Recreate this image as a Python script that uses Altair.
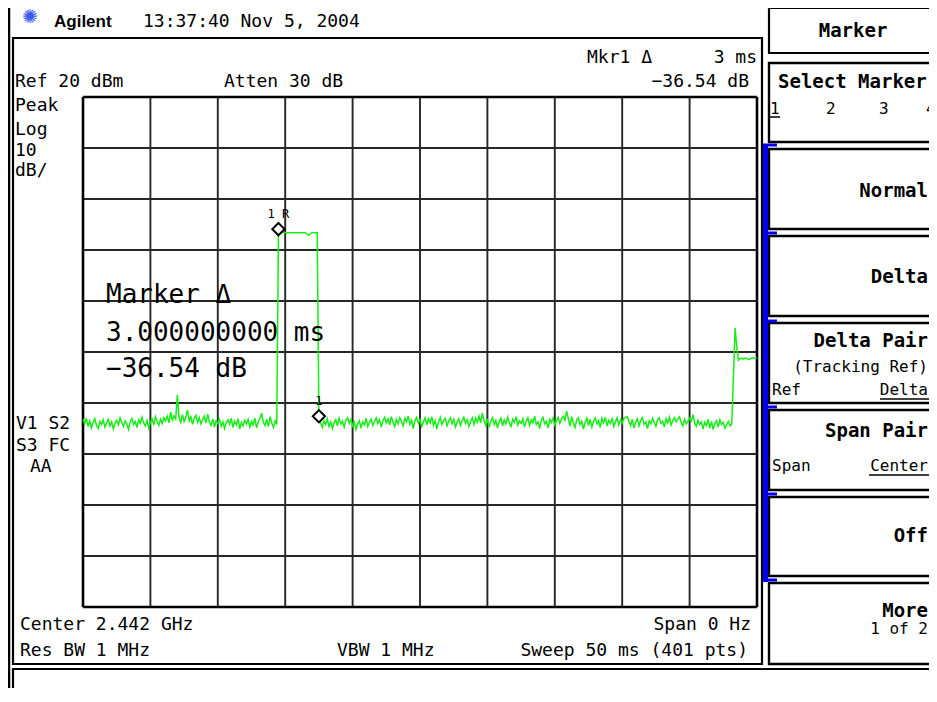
import altair as alt
import pandas as pd

# ---------------- data ----------------
SWEEP_MS = 50.0
REF_DBM = 20.0
DB_PER_DIV = 10.0
N_DIV = 10

noise_before = [
    -43.2, -44.1, -43.0, -44.6, -43.5, -44.9, -43.8, -43.1, -44.4, -45.0, -43.6, -44.2, -43.3, -44.7, -43.9, -43.2, -44.5, -43.7, -45.1, -44.0,
    -43.4, -44.3, -42.9, -43.8, -44.6, -43.5, -44.1, -45.2, -43.7, -43.0, -44.2, -43.6, -44.8, -43.3, -44.0, -42.8, -43.9, -44.5, -43.4, -44.9,
    -43.8, -43.1, -44.3, -42.7, -43.6, -44.4, -43.2, -44.0, -42.9, -43.5, -42.6, -43.9, -41.8, -43.4, -42.5, -43.1, -38.4, -42.9, -43.8, -42.3,
    -43.6, -42.8, -41.4, -43.5, -42.7, -44.2, -43.0, -42.4, -43.8, -42.9, -44.1, -43.3, -42.6, -43.9, -42.2, -43.7, -44.4, -43.1, -44.7, -43.5,
    -44.0, -43.2, -44.6, -43.7, -45.0, -43.9, -43.3, -44.2, -43.0, -44.8, -43.6, -44.3, -43.1, -45.1, -43.8, -44.5, -43.4, -44.1, -43.2, -44.7,
    -43.6, -44.3, -43.0, -44.9, -43.7, -43.1, -42.0, -43.8, -44.4, -43.2, -44.6, -42.7, -43.9, -44.8, -43.5, -44.2,
]
pulse_top = [
    -6.6, -6.6, -6.6, -6.5, -6.6, -6.6, -6.6, -6.6, -6.6, -6.6, -6.6, -6.6, -6.6, -6.6, -6.6, -6.6, -6.6,
    -6.9, -7.1, -6.8, -6.6, -6.6, -6.6, -6.6,
]
noise_after = [
    -42.6, -43.9, -44.8, -43.5, -44.2, -43.1, -44.6, -43.7, -45.0, -43.9, -43.3, -44.5, -43.0, -44.1, -43.6, -44.7, -43.4, -42.9, -44.0, -43.2,
    -44.5, -43.8, -45.2, -44.1, -43.5, -44.9, -43.7, -44.3, -43.0, -44.6, -43.8, -43.2, -44.4, -43.6, -42.9, -44.0, -43.3, -44.7, -43.5, -42.8,
    -43.9, -43.1, -44.3, -42.7, -43.8, -44.6, -43.2, -44.1, -42.9, -43.6, -44.5, -43.0, -43.7, -42.6, -44.2, -43.4, -45.0, -43.5, -42.8, -44.0,
    -43.3, -44.6, -43.8, -42.9, -44.3, -43.1, -43.9, -42.7, -44.4, -43.5, -45.1, -43.7, -42.8, -44.2, -43.4, -43.0, -44.5, -43.6, -42.9, -44.1,
    -43.2, -44.7, -43.8, -43.1, -44.4, -43.5, -42.8, -44.0, -43.3, -44.6, -43.7, -42.9, -44.2, -43.0, -43.8, -42.6, -43.9, -42.0, -43.5, -44.3,
    -43.1, -44.8, -43.6, -42.9, -44.2, -43.4, -44.9, -43.7, -43.0, -44.5, -43.3, -44.1, -42.8, -43.9, -44.6, -43.2, -43.8, -42.7, -44.3, -43.5,
    -44.0, -43.1, -44.7, -43.6, -42.9, -44.4, -43.3, -43.9, -42.6, -44.2, -43.7, -45.0, -43.4, -42.8, -44.1, -43.6, -44.9, -43.2, -43.8, -42.9,
    -44.3, -43.5, -42.8, -44.0, -43.1, -42.6, -43.4, -41.6, -43.0, -44.6, -42.7, -43.9, -44.8, -43.3, -42.9, -44.2, -43.6, -45.1, -43.8, -43.0,
    -44.4, -43.2, -44.7, -43.6, -42.9, -44.1, -43.5, -44.8, -43.0, -43.9, -42.8, -44.5, -43.4, -44.0, -43.1, -44.6, -43.7, -42.9, -44.3, -43.3,
    -43.9, -43.0, -42.8, -42.7, -43.6, -44.4, -43.2, -44.9, -43.8, -43.1, -44.5, -43.4, -42.9, -44.2, -43.7, -45.0, -43.5, -44.1, -43.0, -43.8,
    -44.6, -43.3, -42.9, -44.0, -43.6, -44.7, -43.1, -43.9, -42.8, -44.3, -43.5, -42.9, -43.7, -43.1, -42.7, -43.8, -44.5, -43.2, -44.1, -43.6,
    -43.0, -43.5, -42.3, -43.9, -44.6, -43.4, -44.2, -43.7, -45.1, -43.8, -44.4, -43.2, -44.9, -43.6, -45.2, -44.0, -43.5, -44.7, -43.3, -44.2,
    -43.8, -44.9, -44.3, -43.6, -44.5,
]
tail = [-44.2, -34.8, -25.3, -29.0, -31.6, -31.3, -31.2, -31.4, -31.2, -31.3, -31.5, -31.3, -31.2, -31.2, -31.3, -31.2]

marker_times = [14.5, 17.5]
marker_levels = [-6.6, -42.6]
marker_labels = ["1 R", "1"]

softkey_titles = ["Normal", "Delta", "Delta Pair", "Span Pair", "Off", "More"]

# ---------------- layout helpers ----------------
OFF = 8
MONO = "DejaVu Sans Mono"
SANS = "Liberation Sans"
GREEN = "#14ee14"
BLUE = "#0000f0"
W, H = 921, 680


def vx(px):
    return px - OFF


def vy(py):
    return py - OFF


one = pd.DataFrame({"k": [0]})


def txt(label, x, y, size=18, font=MONO, weight="normal", align="left", color="black", baseline="alphabetic"):
    return alt.Chart(one).mark_text(
        font=font, fontSize=size, fontWeight=weight, align=align, baseline=baseline, color=color
    ).encode(x=alt.value(vx(x)), y=alt.value(vy(y)), text=alt.value(label))


def box(x1, y1, x2, y2, stroke="black", sw=2.0, fill="white"):
    return alt.Chart(one).mark_rect(fill=fill, stroke=stroke, strokeWidth=sw).encode(
        x=alt.value(vx(x1)), x2=alt.value(vx(x2)), y=alt.value(vy(y1)), y2=alt.value(vy(y2))
    )


def hline(x1, x2, y, sw=1.5, color="black"):
    return alt.Chart(one).mark_rule(color=color, strokeWidth=sw).encode(
        x=alt.value(vx(x1)), x2=alt.value(vx(x2)), y=alt.value(vy(y))
    )


def vline(x, y1, y2, sw=1.5, color="black"):
    return alt.Chart(one).mark_rule(color=color, strokeWidth=sw).encode(
        x=alt.value(vx(x)), y=alt.value(vy(y1)), y2=alt.value(vy(y2))
    )


layers = []

# frames
layers.append(vline(9, 0, 720, sw=2.5))
layers.append(box(13, 38, 762, 664, sw=2.2))
layers.append(box(13, 669, 960, 701, sw=2.2))
layers.append(box(769, 8, 960, 53, sw=2.2))
key_boxes = [(63, 142), (149, 229), (236, 316), (323, 403), (410, 490), (497, 576), (583, 664)]
for (a, b) in key_boxes:
    layers.append(box(769, a, 960, b, sw=2.4))
# blue active bar
layers.append(box(763, 144, 768, 582, stroke=BLUE, sw=0, fill=BLUE))
for t in [145, 233, 321, 407, 494, 580]:
    layers.append(box(763, t - 1.5, 777, t + 1.5, stroke=BLUE, sw=0, fill=BLUE))

# ---------------- graticule and trace (data driven) ----------------
xs = alt.Scale(domain=[0, SWEEP_MS], range=[vx(83), vx(757)])
ys = alt.Scale(domain=[REF_DBM - N_DIV * DB_PER_DIV, REF_DBM], range=[vy(607), vy(97)])

t_ticks = [SWEEP_MS * k / N_DIV for k in range(N_DIV + 1)]
d_ticks = [REF_DBM - DB_PER_DIV * k for k in range(N_DIV + 1)]
lo = REF_DBM - N_DIV * DB_PER_DIV

gv = pd.DataFrame({"t": t_ticks, "lo": lo, "hi": REF_DBM, "edge": [k in (0, N_DIV) for k in range(N_DIV + 1)]})
gh = pd.DataFrame({"d": d_ticks, "t0": 0.0, "t1": SWEEP_MS, "edge": [k in (0, N_DIV) for k in range(N_DIV + 1)]})

for edge, w, col in [(False, 1.9, "#262626"), (True, 2.6, "#000000")]:
    layers.append(
        alt.Chart(gv[gv.edge == edge]).mark_rule(color=col, strokeWidth=w).encode(
            x=alt.X("t:Q", scale=xs, axis=None), y=alt.Y("lo:Q", scale=ys, axis=None), y2="hi:Q"
        )
    )
    layers.append(
        alt.Chart(gh[gh.edge == edge]).mark_rule(color=col, strokeWidth=w).encode(
            y=alt.Y("d:Q", scale=ys, axis=None), x=alt.X("t0:Q", scale=xs, axis=None), x2="t1:Q"
        )
    )

levels = noise_before + pulse_top + noise_after + tail
n = len(levels)
trace_df = pd.DataFrame({"t": [i * SWEEP_MS / (n - 1) for i in range(n)], "dbm": levels})
layers.append(
    alt.Chart(trace_df).mark_line(color=GREEN, strokeWidth=1.5).encode(
        x=alt.X("t:Q", scale=xs, axis=None), y=alt.Y("dbm:Q", scale=ys, axis=None)
    )
)

mk = pd.DataFrame({"t": marker_times, "dbm": marker_levels, "label": marker_labels})
for i, off in [(0, -3.5), (1, 0.0)]:
    sub = mk.iloc[[i]]
    layers.append(
        alt.Chart(sub).mark_point(shape="diamond", size=150, filled=True, fill="white", stroke="black",
                                  strokeWidth=2, opacity=1, yOffset=off).encode(
            x=alt.X("t:Q", scale=xs, axis=None), y=alt.Y("dbm:Q", scale=ys, axis=None)
        )
    )
    layers.append(
        alt.Chart(sub).mark_text(font=MONO, fontSize=12, color="black", dy=-11 + off, baseline="alphabetic").encode(
            x=alt.X("t:Q", scale=xs, axis=None), y=alt.Y("dbm:Q", scale=ys, axis=None), text="label:N"
        )
    )

# ---------------- texts ----------------
layers.append(txt("✺", 30, 17, size=19, font="DejaVu Sans", align="center", color="#3a5ae8", baseline="middle"))
layers.append(txt("Agilent", 54, 27, size=17, font=SANS, weight="bold"))
layers.append(txt("13:37:40  Nov 5, 2004", 143, 27, size=18))

layers.append(txt("Mkr1 Δ", 587, 63))
layers.append(txt("3 ms", 757, 63, align="right"))
layers.append(txt("Ref 20 dBm", 15, 87))
layers.append(txt("Atten 30 dB", 224, 87))
layers.append(txt("−36.54 dB", 749, 87, align="right"))
for lab, yy in [("Peak", 111), ("Log", 135), ("10", 156), ("dB/", 176)]:
    layers.append(txt(lab, 15, yy))
layers.append(txt("V1  S2", 16, 429))
layers.append(txt("S3  FC", 16, 451))
layers.append(txt("AA", 30, 472))
layers.append(txt("Center 2.442 GHz", 20, 630))
layers.append(txt("Res BW 1 MHz", 20, 656))
layers.append(txt("VBW 1 MHz", 337, 656))
layers.append(txt("Span 0 Hz", 751, 630, align="right"))
layers.append(txt("Sweep 50 ms (401 pts)", 748, 656, align="right"))

layers.append(txt("Marker Δ", 106, 303, size=26))
layers.append(txt("3.000000000 ms", 106, 341, size=26))
layers.append(txt("−36.54 dB", 106, 377, size=26))

# softkeys
KEY = 19
layers.append(txt("Marker", 853, 37, size=KEY, weight="bold", align="center"))
layers.append(txt("Select Marker", 778, 88, size=KEY, weight="bold"))
for lab, xx in [("1", 770), ("2", 826), ("3", 879), ("4", 926)]:
    layers.append(txt(lab, xx, 114, size=16))
layers.append(hline(770, 780, 117, sw=1.5))
key_baselines = [197, 283, 347, 437, 542, 617]
for lab, yy in zip(softkey_titles, key_baselines):
    layers.append(txt(lab, 928, yy, size=KEY, weight="bold", align="right"))
layers.append(txt("(Tracking Ref)", 928, 372, size=16, align="right"))
layers.append(txt("Ref", 772, 395, size=16))
layers.append(txt("Delta", 928, 395, size=16, align="right"))
layers.append(hline(880, 929, 399, sw=1.5))
layers.append(txt("Span", 772, 471, size=16))
layers.append(txt("Center", 928, 471, size=16, align="right"))
layers.append(hline(869, 929, 475, sw=1.5))
layers.append(txt("1 of 2", 928, 634, size=16, align="right"))

chart = alt.layer(*layers).properties(
    width=W, height=H, autosize=alt.AutoSizeParams(type="none"), padding=0, background="white"
).configure_view(stroke=None)

chart.save("out.html", embed_options={"renderer": "svg", "actions": False})
